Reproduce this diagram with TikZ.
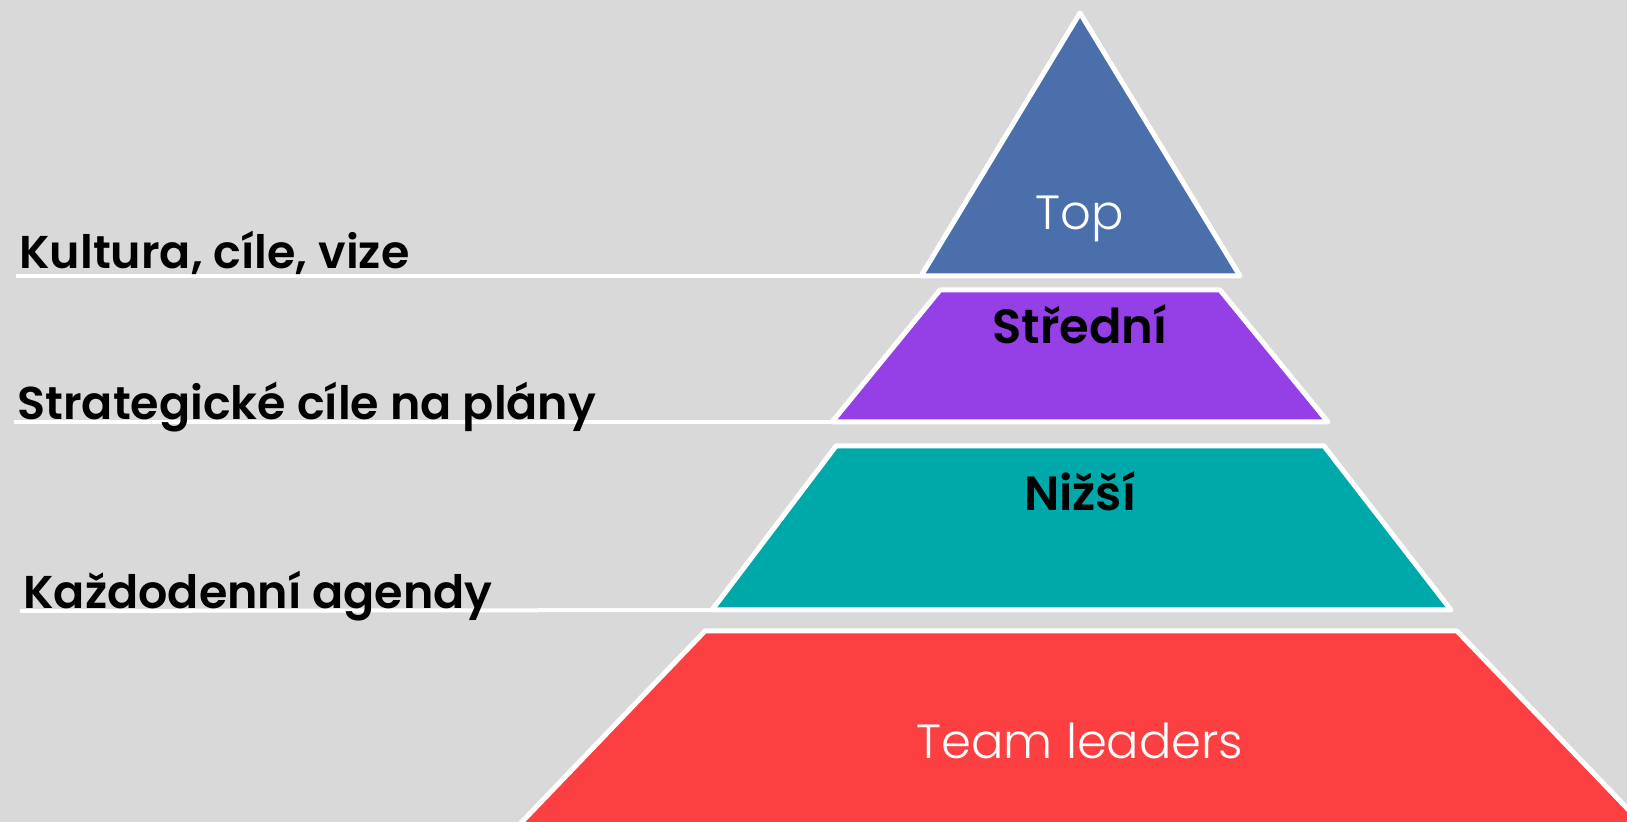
\documentclass[tikz,border=0pt]{standalone}
\usepackage{fontspec}
\newfontfamily\thinfont{Poppins Light}
\newfontfamily\boldfont{Poppins SemiBold}
\definecolor{bgc}{HTML}{D9D9D9}
\definecolor{topc}{HTML}{4B6FAA}
\definecolor{midc}{HTML}{9440E6}
\definecolor{lowc}{HTML}{00A9A9}
\definecolor{teamc}{HTML}{FC3F40}
\begin{document}
\begin{tikzpicture}[x=0.5pt,y=-0.5pt,
  tier/.style={draw=white,line width=2.5pt,line join=round},
  leader/.style={draw=white,line width=2pt},
  thintext/.style={text=white,font=\thinfont\fontsize{24pt}{28pt}\selectfont,inner sep=0pt,anchor=base},
  boldtext/.style={text=black,font=\boldfont\fontsize{24pt}{28pt}\selectfont,inner sep=0pt,anchor=base},
  labeltext/.style={text=black,font=\boldfont\fontsize{23pt}{28pt}\selectfont,inner sep=0pt,anchor=base west}]
\fill[bgc] (0,0) rectangle (1627,822);
\useasboundingbox (0,0) rectangle (1627,822);
% corners
\coordinate (ta) at (1080,13);
\coordinate (tbl) at (921,276);
\coordinate (tbr) at (1240,276);
\coordinate (mtl) at (940,290);
\coordinate (mtr) at (1220,290);
\coordinate (mbr) at (1328,422);
\coordinate (mbl) at (832,422);
\coordinate (ltl) at (836,446);
\coordinate (ltr) at (1324,446);
\coordinate (lbr) at (1451,610);
\coordinate (lbl) at (712,610);
\coordinate (etl) at (705,631);
\coordinate (etr) at (1457,631);
\coordinate (ebr) at (1715,900);
\coordinate (ebl) at (447,900);
% tiers
\path[tier,fill=topc] (ta) -- (tbr) -- (tbl) -- cycle;
\path[tier,fill=midc] (mtl) -- (mtr) -- (mbr) -- (mbl) -- cycle;
\path[tier,fill=lowc] (ltl) -- (ltr) -- (lbr) -- (lbl) -- cycle;
\path[tier,fill=teamc] (etl) -- (etr) -- (ebr) -- (ebl) -- cycle;
% tier texts
\node[thintext] (top) at (1080,230) {Top};
\node[boldtext] (stredni) at (1080,344) {Střední};
\node[boldtext] (nizsi) at (1080,511) {Nižší};
\node[thintext] (team) at (1080,758) {Team leaders};
% leader lines
\coordinate (k0) at (16,276);
\coordinate (s0) at (14,422);
\coordinate (d0) at (20,611);
\draw[leader] (k0) -- (tbl);
\draw[leader] (s0) -- (mbl);
\draw[leader] (d0) -- (lbl);
% labels
\node[labeltext] (kultura) at (19,269) {Kultura, cíle, vize};
\node[labeltext] (strat) at (17,420) {Strategické cíle na plány};
\node[labeltext] (kazdo) at (23,609) {Každodenní agendy};
\end{tikzpicture}
\end{document}
